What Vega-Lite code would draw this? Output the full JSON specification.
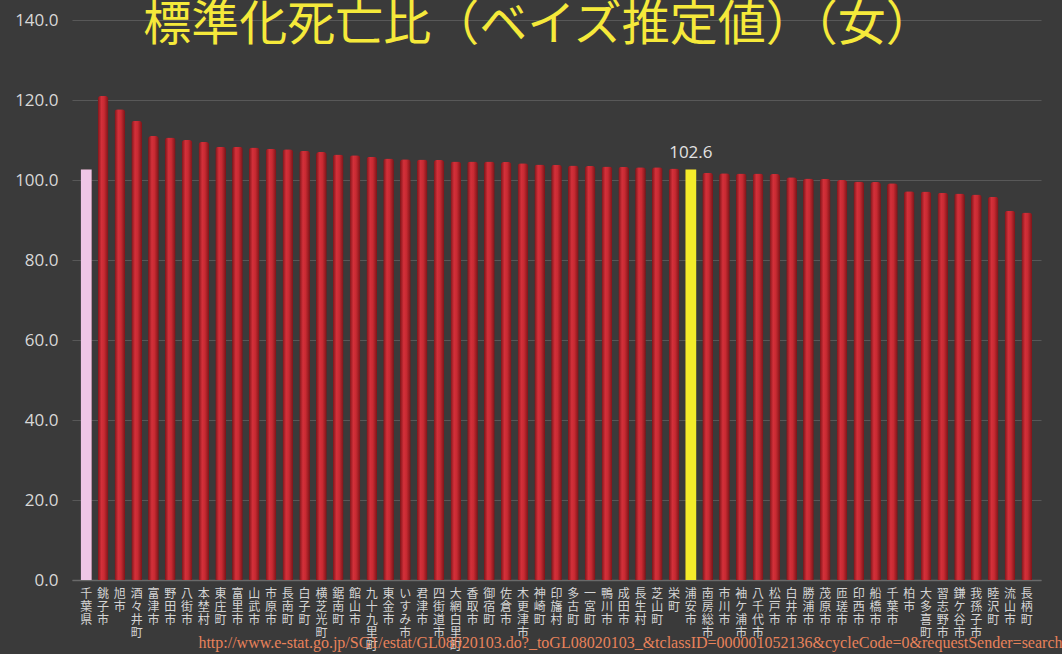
{
  "$schema": "https://vega.github.io/schema/vega-lite/v6.json",
  "width": 969,
  "height": 560,
  "autosize": {"type": "none"},
  "padding": {"left": 72, "top": 20, "right": 21, "bottom": 74},
  "background": "#3a3a3a",
  "config": {"view": {"stroke": null}},
  "title": {
    "text": "標準化死亡比（ベイズ推定値）（女）",
    "font": "Noto Sans CJK JP",
    "fontSize": 48,
    "fontWeight": "normal",
    "color": "#f5e93a",
    "anchor": "middle",
    "offset": 0,
    "dx": -18,
    "dy": 39
  },
  "data": {
    "values": [
      {"name": "千葉県", "value": 102.6},
      {"name": "銚子市", "value": 121.0},
      {"name": "旭市", "value": 117.7},
      {"name": "酒々井町", "value": 114.8},
      {"name": "富津市", "value": 111.0},
      {"name": "野田市", "value": 110.6},
      {"name": "八街市", "value": 110.0},
      {"name": "本埜村", "value": 109.5},
      {"name": "東庄町", "value": 108.3},
      {"name": "富里市", "value": 108.3},
      {"name": "山武市", "value": 108.1},
      {"name": "市原市", "value": 107.8},
      {"name": "長南町", "value": 107.7},
      {"name": "白子町", "value": 107.3},
      {"name": "横芝光町", "value": 107.0},
      {"name": "鋸南町", "value": 106.4},
      {"name": "館山市", "value": 106.2},
      {"name": "九十九里町", "value": 105.8},
      {"name": "東金市", "value": 105.4},
      {"name": "いすみ市", "value": 105.2},
      {"name": "君津市", "value": 105.1},
      {"name": "四街道市", "value": 105.0},
      {"name": "大網白里町", "value": 104.6},
      {"name": "香取市", "value": 104.6},
      {"name": "御宿町", "value": 104.6},
      {"name": "佐倉市", "value": 104.5},
      {"name": "木更津市", "value": 104.2},
      {"name": "神崎町", "value": 103.9},
      {"name": "印旛村", "value": 103.8},
      {"name": "多古町", "value": 103.6},
      {"name": "一宮町", "value": 103.5},
      {"name": "鴨川市", "value": 103.4},
      {"name": "成田市", "value": 103.3},
      {"name": "長生村", "value": 103.2},
      {"name": "芝山町", "value": 103.2},
      {"name": "栄町", "value": 102.9},
      {"name": "浦安市", "value": 102.6},
      {"name": "南房総市", "value": 101.8},
      {"name": "市川市", "value": 101.7},
      {"name": "袖ケ浦市", "value": 101.6},
      {"name": "八千代市", "value": 101.6},
      {"name": "松戸市", "value": 101.5},
      {"name": "白井市", "value": 100.7},
      {"name": "勝浦市", "value": 100.4},
      {"name": "茂原市", "value": 100.3},
      {"name": "匝瑳市", "value": 100.0},
      {"name": "印西市", "value": 99.6},
      {"name": "船橋市", "value": 99.5},
      {"name": "千葉市", "value": 99.2},
      {"name": "柏市", "value": 97.2},
      {"name": "大多喜町", "value": 97.1},
      {"name": "習志野市", "value": 96.8},
      {"name": "鎌ケ谷市", "value": 96.6},
      {"name": "我孫子市", "value": 96.4},
      {"name": "睦沢町", "value": 95.8},
      {"name": "流山市", "value": 92.3},
      {"name": "長柄町", "value": 91.9}
    ]
  },
  "encoding": {
    "x": {
      "field": "name",
      "type": "nominal",
      "sort": null,
      "scale": {"paddingInner": 0.36, "paddingOuter": 0.53},
      "axis": {
        "title": "http://www.e-stat.go.jp/SG1/estat/GL08020103.do?_toGL08020103_&tclassID=000001052136&cycleCode=0&requestSender=search",
        "titleFont": "Liberation Serif",
        "titleFontSize": 16,
        "titleFontWeight": "normal",
        "titleColor": "#e8825a",
        "titleAlign": "right",
        "titleAnchor": "end",
        "titleBaseline": "alphabetic",
        "titleX": 990,
        "titleY": 67,
        "labelAngle": 0,
        "labelExpr": "split(datum.label, '')",
        "labelFont": "Noto Sans CJK JP",
        "labelFontSize": 12,
        "labelLineHeight": 13,
        "labelColor": "#d4d4d4",
        "labelBaseline": "top",
        "labelPadding": 8,
        "labelOverlap": false,
        "ticks": false,
        "domainColor": "#6a6a6a",
        "domainWidth": 1.5
      }
    },
    "y": {
      "field": "value",
      "type": "quantitative",
      "scale": {"domain": [0, 140], "nice": false},
      "axis": {
        "title": null,
        "values": [0, 20, 40, 60, 80, 100, 120, 140],
        "format": ".1f",
        "labelFont": "Open Sans",
        "labelFontSize": 17,
        "labelColor": "#d8d8d8",
        "labelPadding": 14,
        "ticks": false,
        "domain": false,
        "gridColor": "#585858",
        "gridWidth": 1
      }
    }
  },
  "layer": [
    {
      "mark": {
        "type": "bar",
        "cornerRadiusTopLeft": 3,
        "cornerRadiusTopRight": 3,
        "color": {
          "gradient": "linear",
          "x1": 0, "x2": 1, "y1": 0, "y2": 0,
          "stops": [
            {"offset": 0, "color": "#7c1418"},
            {"offset": 0.35, "color": "#d3303a"},
            {"offset": 0.6, "color": "#c82a32"},
            {"offset": 1, "color": "#7a1418"}
          ]
        }
      }
    },
    {
      "transform": [{"filter": "datum.name === '千葉県'"}],
      "mark": {"type": "bar", "color": "#efc6e6"}
    },
    {
      "transform": [{"filter": "datum.name === '浦安市'"}],
      "mark": {"type": "bar", "color": "#f4ec2a"}
    },
    {
      "transform": [{"filter": "datum.name === '浦安市'"}],
      "mark": {"type": "text", "baseline": "bottom", "dy": -8, "font": "Open Sans", "fontSize": 17, "color": "#e2e2e2"},
      "encoding": {"text": {"field": "value", "type": "quantitative", "format": ".1f"}}
    }
  ]
}
